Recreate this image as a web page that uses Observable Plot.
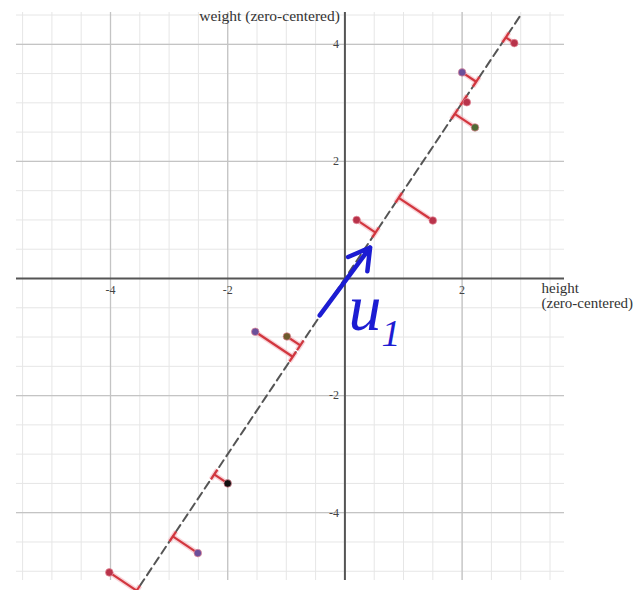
<!DOCTYPE html>
<html><head><meta charset="utf-8">
<script src="https://cdn.jsdelivr.net/npm/d3@7"></script>
<script src="https://cdn.jsdelivr.net/npm/@observablehq/plot@0.6"></script>
<style>body{margin:0;background:#fff} #chart{width:636px;height:590px}</style>
</head><body><div id="chart"></div>
<script>
// data (zero-centered height / weight)
const heights = [2.89, 2.0, 2.08, 2.22, 1.5, 0.2, -1.53, -0.99, -2.0, -2.51, -4.02];
const weights = [4.02, 3.52, 3.01, 2.58, 0.99, 1.0, -0.91, -0.99, -3.5, -4.69, -5.02];
const pointColors = ["#b8334a", "#6b4f9a", "#b8334a", "#4f6a35", "#b8334a", "#b8334a",
                     "#6b4f9a", "#6e5a2c", "#111111", "#6b4f9a", "#b8334a"];
const xTickValues = [-4, -2, 2];
const yTickValues = [4, 2, -2, -4];
const lineSlope = 1.5;
const lineHeightExtent = [-3.5, 3.02];
const u1Tail = [-0.43, -0.63];
const u1Head = [0.43, 0.53];
const u1LabelAt = [0.06, -0.88];
const xDomain = [-5.604, 3.747];
const yDomain = [-5.158, 4.543];

const norm = Math.hypot(1, lineSlope);
const ux = 1 / norm, uy = lineSlope / norm;
const pts = heights.map((h, i) => {
  const t = h * ux + weights[i] * uy;
  return {h, w: weights[i], c: pointColors[i], fx: t * ux, fy: t * uy};
});
const tickHalf = 0.1;
const feetTicks = pts.map(p => ({x1: p.fx - tickHalf * ux, y1: p.fy - tickHalf * uy,
                                x2: p.fx + tickHalf * ux, y2: p.fy + tickHalf * uy}));
const minorX = d3.range(-5.5, 3.51, 0.5);
const minorY = d3.range(-5, 4.51, 0.5);
const fitLine = lineHeightExtent.map(x => ({x, y: lineSlope * x}));

const serif = "'Liberation Serif', 'DejaVu Serif', serif";

const chart = Plot.plot({
  width: 636, height: 590,
  marginLeft: 16, marginRight: 72, marginTop: 12, marginBottom: 10,
  x: {domain: xDomain, axis: null},
  y: {domain: yDomain, axis: null},
  style: {background: "#fff", fontFamily: serif},
  marks: [
    Plot.ruleX(minorX, {y1: yDomain[0], y2: yDomain[1], stroke: "#e6e6e6", strokeWidth: 1}),
    Plot.ruleY(minorY, {x1: xDomain[0], x2: xDomain[1], stroke: "#e6e6e6", strokeWidth: 1}),
    Plot.ruleX(xTickValues, {y1: yDomain[0], y2: yDomain[1], stroke: "#c4c4c4", strokeWidth: 1.3}),
    Plot.ruleY(yTickValues, {x1: xDomain[0], x2: xDomain[1], stroke: "#c4c4c4", strokeWidth: 1.3}),
    Plot.ruleY([0], {x1: xDomain[0], x2: xDomain[1], stroke: "#555", strokeWidth: 2}),
    Plot.ruleX([0], {y1: yDomain[0], y2: yDomain[1], stroke: "#555", strokeWidth: 2}),
    Plot.text(xTickValues, {x: d => d, y: 0, text: d => String(d), dy: 12, fontSize: 12, fill: "#444"}),
    Plot.text(yTickValues, {x: 0, y: d => d, text: d => String(d), dx: -6, textAnchor: "end", fontSize: 12, fill: "#444"}),
    Plot.line(fitLine, {x: "x", y: "y", stroke: "#555", strokeWidth: 2, strokeDasharray: "8,5"}),
    Plot.link(pts, {x1: "h", y1: "w", x2: "fx", y2: "fy", stroke: "#f3b7c0", strokeWidth: 5, strokeOpacity: 0.6}),
    Plot.link(feetTicks, {x1: "x1", y1: "y1", x2: "x2", y2: "y2", stroke: "#f3b7c0", strokeWidth: 5, strokeOpacity: 0.6}),
    Plot.link(pts, {x1: "h", y1: "w", x2: "fx", y2: "fy", stroke: "#d2363e", strokeWidth: 2.2}),
    Plot.link(feetTicks, {x1: "x1", y1: "y1", x2: "x2", y2: "y2", stroke: "#d2363e", strokeWidth: 2.2}),
    Plot.dot(pts, {x: "h", y: "w", r: 3.8, fill: "c", stroke: "#e58a9a", strokeWidth: 1, strokeOpacity: 0.7}),
    Plot.arrow([{x1: u1Tail[0], y1: u1Tail[1], x2: u1Head[0], y2: u1Head[1]}],
      {x1: "x1", y1: "y1", x2: "x2", y2: "y2", stroke: "#1c1cd2", strokeWidth: 4.5, headLength: 8, headAngle: 60}),
    Plot.text(["u"], {x: u1LabelAt[0], y: u1LabelAt[1], text: d => d, textAnchor: "start", lineAnchor: "bottom",
      fontSize: 66, fontStyle: "italic", fill: "#1c1cd2"}),
    Plot.text(["1"], {x: u1LabelAt[0], y: u1LabelAt[1], text: d => d, textAnchor: "start", lineAnchor: "bottom",
      dx: 33, dy: 16, fontSize: 38, fontStyle: "italic", fill: "#1c1cd2"}),
    Plot.text(["weight (zero-centered)"], {x: 0, y: yDomain[1], text: d => d, dx: -5, dy: 4, textAnchor: "end",
      fontSize: 15.5, fill: "#333"}),
    Plot.text(["height\n(zero-centered)"], {x: 3.355, y: 0, text: d => d, textAnchor: "start", lineAnchor: "top",
      dy: 4, lineHeight: 1.0, fontSize: 15, fill: "#333"})
  ]
});
document.getElementById("chart").appendChild(chart);
</script>
</body></html>
